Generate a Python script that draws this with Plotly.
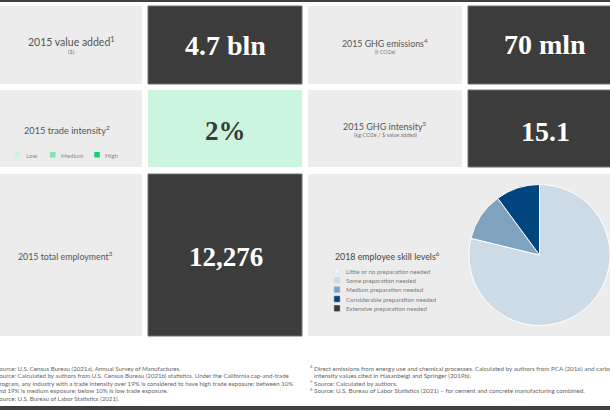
import plotly.graph_objects as go

# ---------------- data ----------------
value_added_bln = 4.7
ghg_emissions_mln = 70
trade_intensity_pct = 2
ghg_intensity = 15.1
total_employment = 12276

trade_levels = ["Low", "Medium", "High"]
trade_colors = ["#ccf5e0", "#85e2b0", "#12d072"]

skill_levels = [
    "Little or no preparation needed",
    "Some preparation needed",
    "Medium preparation needed",
    "Considerable preparation needed",
    "Extensive preparation needed",
]
skill_shares = [0, 78.8, 11.1, 10.1, 0]
skill_colors = ["#f1f4f8", "#cddbe6", "#7fa2bf", "#00457e", "#3a3a3a"]

notes_left = [
    ("1", "Source: U.S. Census Bureau (2021a), Annual Survey of Manufactures."),
    ("2", "Source: Calculated by authors from U.S. Census Bureau (2021b) statistics. Under the California cap-and-trade"),
    ("", "program, any industry with a trade intensity over 19% is considered to have high trade exposure; between 10%"),
    ("", "and 19% is medium exposure; below 10% is low trade exposure."),
    ("3", "Source: U.S. Bureau of Labor Statistics (2021)."),
]
notes_right = [
    ("4", "Direct emissions from energy use and chemical processes. Calculated by authors from PCA (2016) and carbon"),
    ("", "intensity values cited in Hasanbeigi and Springer (2019b)."),
    ("5", "Source: Calculated by authors."),
    ("6", "Source: U.S. Bureau of Labor Statistics (2021) \u2013 for cement and concrete manufacturing combined."),
]

# ---------------- helpers ----------------
W, H = 610, 410
LIGHT = "#ececec"
DARK = "#3c3c3c"
MINT = trade_colors[0]
LABEL = "Lato"
SERIF = "Liberation Serif"


def px(x):
    return x / W


def py(y):
    return 1 - y / H


shapes = []
annotations = []


def rect(x0, y0, x1, y1, fill, line=None, lw=0):
    shapes.append(dict(type="rect", xref="paper", yref="paper",
                       x0=px(x0), x1=px(x1), y0=py(y1), y1=py(y0),
                       fillcolor=fill, layer="below",
                       line=dict(color=line or fill, width=lw)))


def text(x, y, s, size, color="#555555", family=LABEL, anchor="center", weight="normal"):
    annotations.append(dict(x=px(x), y=py(y), xref="paper", yref="paper",
                            text=s, showarrow=False, xanchor=anchor, yanchor="middle",
                            font=dict(family=family, size=size, color=color, weight=weight)))


# frame lines
rect(-5, -2, 615, 2, "#404040")
rect(-5, 406, 615, 414, "#404040")

# row 1
rect(-12, 6, 142, 84, LIGHT)
rect(148, 6, 302, 84, DARK, "#6e6e6e", 1)
rect(308, 6, 462, 84, LIGHT)
rect(468, 6, 622, 84, DARK, "#6e6e6e", 1)
# row 2
rect(-12, 90, 142, 167, LIGHT)
rect(148, 90, 302, 167, MINT)
rect(308, 90, 462, 167, LIGHT)
rect(468, 90, 622, 167, DARK, "#6e6e6e", 1)
# row 3
rect(-12, 174, 142, 336, LIGHT)
rect(148, 174, 302, 336, DARK, "#6e6e6e", 1)
rect(308, 174, 622, 336, LIGHT)

# labels
text(71, 42, "2015 value added<sup>1</sup>", 10.5)
text(71, 52, "($)", 5.5, "#777777")
text(385, 43, "2015 GHG emissions<sup>4</sup>", 8.8)
text(385, 52, "(t CO2e)", 5.5, "#777777")
text(67, 130, "2015 trade intensity<sup>2</sup>", 9.2)
text(385, 126, "2015 GHG intensity<sup>5</sup>", 9)
text(385, 135, "(kg CO2e / $ value added)", 5.5, "#777777")
text(65, 256, "2015 total employment<sup>3</sup>", 8.8)
text(333, 256, "2018 employee skill levels<sup>6</sup>", 8.8, "#444444", anchor="left")

# big numbers
text(225, 46, f"{value_added_bln} bln", 28, "#ffffff", SERIF, weight="bold")
text(545, 45, f"{ghg_emissions_mln} mln", 28, "#ffffff", SERIF, weight="bold")
text(225, 131, f"{trade_intensity_pct}%", 27, "#3a3a3a", SERIF, weight="bold")
text(545, 131, f"{ghg_intensity}", 28, "#ffffff", SERIF, weight="bold")
text(226, 257, f"{total_employment:,}", 27, "#ffffff", SERIF, weight="bold")

# trade-intensity legend
trade_box_x = [15, 50, 94.3]
for bx, lab, col in zip(trade_box_x, trade_levels, trade_colors):
    rect(bx, 152, bx + 5.5, 157.5, col)
    text(bx + 9, 155, lab, 6.2, "#888888", anchor="left")

# skill legend
skill_y = [271, 280.3, 289.6, 299, 308.3]
for yy, lab, col in zip(skill_y, skill_levels, skill_colors):
    rect(334.3, yy - 2.8, 339.7, yy + 2.8, col, "#d8dde2" if col == skill_colors[0] else col, 0.5)
    text(344, yy, lab, 6.2, "#7a7a7a", anchor="left")

# footnotes
note_y_left = [368, 375.5, 383, 390.5, 398]
for yy, (sup, s) in zip(note_y_left, notes_left):
    if sup:
        text(-10, yy - 1.5, sup, 4.5, "#777777", anchor="left")
    text(-6, yy, s, 6.15, "#666666", anchor="left")

note_y_right = [368, 375.5, 383, 390.5]
for yy, (sup, s) in zip(note_y_right, notes_right):
    if sup:
        text(308, yy - 1.5, sup, 4.5, "#777777", anchor="left")
    text(312, yy, s, 6.3, "#666666", anchor="left")

# pie
fig = go.Figure(go.Pie(
    labels=skill_levels,
    values=skill_shares,
    sort=False,
    direction="clockwise",
    rotation=0,
    marker=dict(colors=skill_colors, line=dict(color="#ffffff", width=1)),
    textinfo="none",
    hoverinfo="label+percent",
    showlegend=False,
    domain=dict(x=[px(469), 1.0], y=[py(325.5), py(184.5)]),
))

fig.update_layout(
    width=W, height=H,
    margin=dict(l=0, r=0, t=0, b=0),
    paper_bgcolor="#ffffff",
    plot_bgcolor="#ffffff",
    shapes=shapes,
    annotations=annotations,
    showlegend=False,
)

fig.write_html(
    "out.html",
    config={"displayModeBar": False},
    post_script="document.body.style.margin='0';document.body.style.overflow='hidden';",
)
